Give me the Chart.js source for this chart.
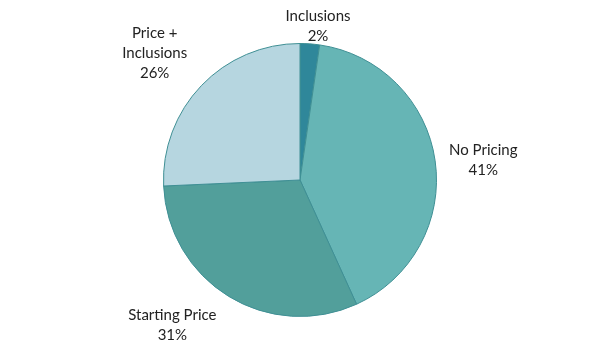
<!DOCTYPE html>
<html>
<head>
<meta charset="utf-8">
<script src="https://cdn.jsdelivr.net/npm/chart.js@4/dist/chart.umd.min.js"></script>
<style>
html,body{margin:0;padding:0;background:#fff;}
#wrap{width:600px;height:360px;position:relative;}
</style>
</head>
<body>
<div id="wrap"><canvas id="c" width="600" height="360"></canvas></div>
<script>
const categories = ["Inclusions", "No Pricing", "Starting Price", "Price + Inclusions"];
const labelLines = [["Inclusions"], ["No Pricing"], ["Starting Price"], ["Price +", "Inclusions"]];
const values = [2.3, 40.9, 31.1, 25.7];
const percentLabels = ["2%", "41%", "31%", "26%"];
const colors = ["#2f879a", "#66b5b5", "#529f9b", "#b6d6e0"];

const outsideLabels = {
  id: 'outsideLabels',
  afterDatasetsDraw(chart, args, opts) {
    const ctx = chart.ctx;
    const meta = chart.getDatasetMeta(0);
    const lineH = 20;
    const nudges = opts.nudges || [];
    ctx.save();
    ctx.font = '15px Lato, "Open Sans", sans-serif';
    ctx.fillStyle = '#222';
    ctx.textBaseline = 'middle';
    ctx.textAlign = 'center';
    meta.data.forEach((arc, i) => {
      const mid = (arc.startAngle + arc.endAngle) / 2;
      const dx = Math.cos(mid), dy = Math.sin(mid);
      const lines = labelLines[i].concat([percentLabels[i]]);
      const h = lines.length * lineH;
      let ax, ay, top;
      if (Math.abs(dx) < 0.3) {
        ax = arc.x + dx * (arc.outerRadius + 2);
        ay = arc.y + dy * (arc.outerRadius + 2);
        top = dy < 0 ? ay - h : ay;
      } else {
        const pad = 10;
        ax = arc.x + dx * (arc.outerRadius + pad);
        ay = arc.y + dy * (arc.outerRadius + pad);
        if (Math.abs(dy) < 0.3) top = ay - h / 2;
        else top = dy < 0 ? ay - h : ay;
        const w = Math.max(...lines.map(l => ctx.measureText(l).width));
        ax = dx > 0 ? ax + w / 2 : ax - w / 2;
      }
      const n = nudges[i] || [0, 0];
      ax += n[0]; top += n[1];
      lines.forEach((l, k) => {
        ctx.fillText(l, ax, top + lineH * k + lineH / 2);
      });
    });
    ctx.restore();
  }
};

new Chart(document.getElementById('c'), {
  type: 'pie',
  data: {
    labels: categories,
    datasets: [{
      data: values,
      backgroundColor: colors,
      borderColor: '#3f8f94',
      borderWidth: 1
    }]
  },
  options: {
    responsive: false,
    animation: false,
    layout: { padding: { top: 43, bottom: 43 } },
    plugins: {
      legend: { display: false },
      tooltip: { enabled: false },
      outsideLabels: { nudges: [[8, 4], [4, 1], [-7, 0], [-7, 4]] }
    }
  },
  plugins: [outsideLabels]
});
</script>
</body>
</html>
